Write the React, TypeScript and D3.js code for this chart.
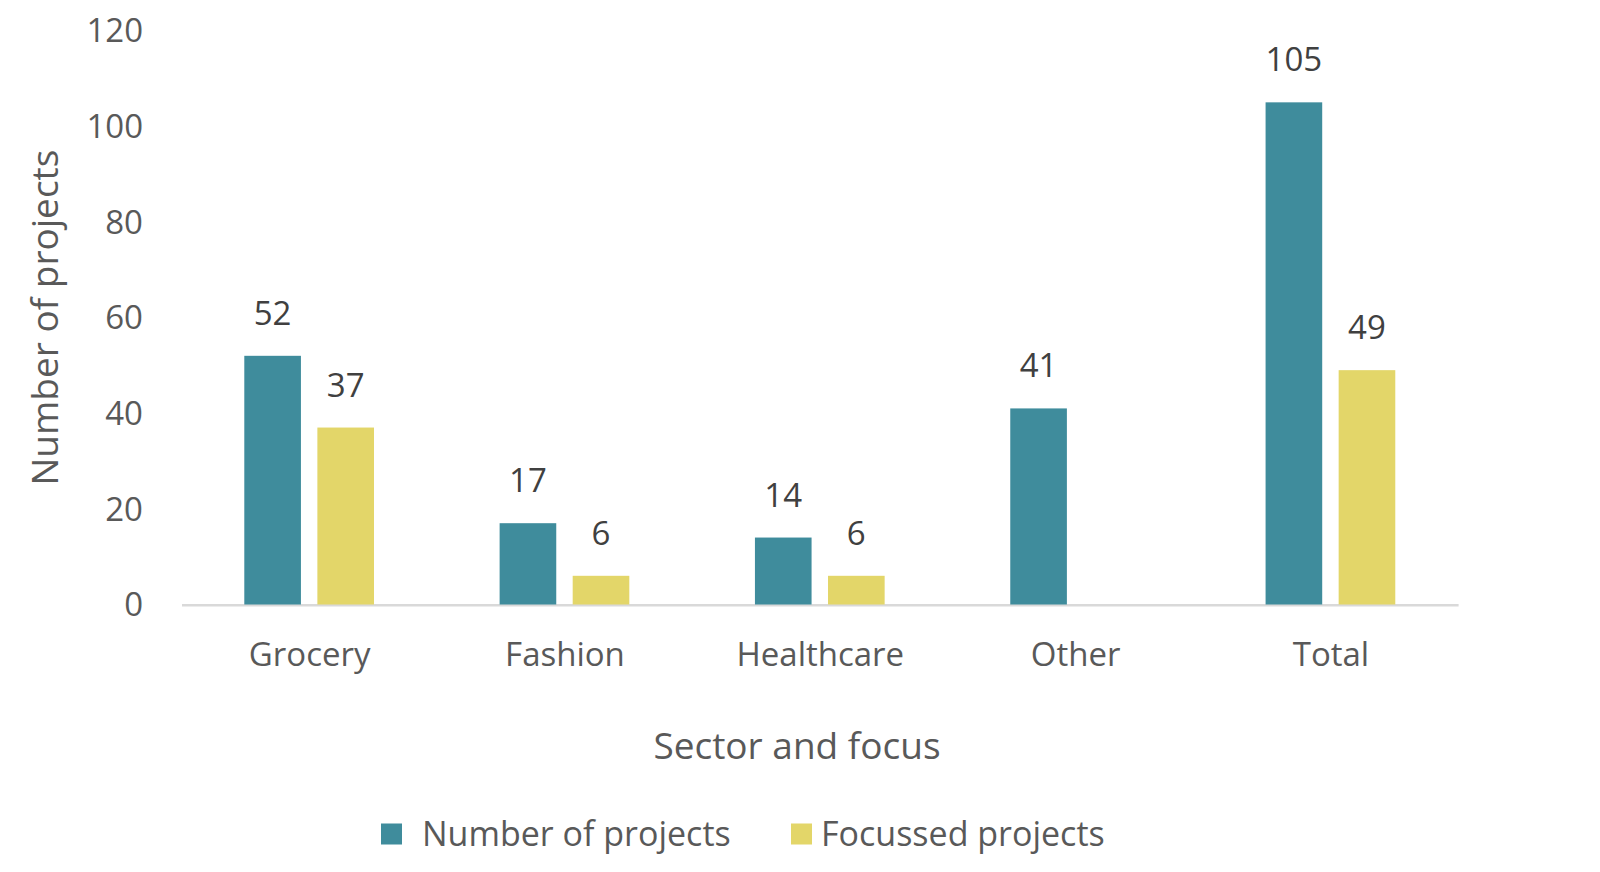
import React, { useRef, useEffect } from 'react';
import * as d3 from 'd3';

// Sectors and the two series
const sectors = ["Grocery", "Fashion", "Healthcare", "Other", "Total"];
const numberOfProjects = [52, 17, 14, 41, 105];
const focussedProjects: (number | null)[] = [37, 6, 6, null, 49];
const seriesNames = ["Number of projects", "Focussed projects"];
const seriesColors = ["#3F8C9C", "#E3D669"];
const yTicks = [0, 20, 40, 60, 80, 100, 120];

const App: React.FC = () => {
  const svgRef = useRef<SVGSVGElement | null>(null);

  useEffect(() => {
    const svg = d3.select(svgRef.current);
    svg.selectAll('*').remove();
    const width = 1600;
    const height = 872;
    const margin = { top: 30.6, right: 141.4, bottom: 267.5, left: 182 };
    const font = '"Open Sans", "Noto Sans", sans-serif';

    svg.attr('width', width).attr('height', height).style('background', '#fff');

    const x0 = d3.scaleBand()
      .domain(sectors)
      .range([margin.left, width - margin.right])
      .padding(0);

    const bw = x0.bandwidth();
    const x1 = d3.scaleBand()
      .domain(seriesNames)
      .range([bw * 0.244, bw * 0.752])
      .paddingInner(0.225)
      .paddingOuter(0);

    const y = d3.scaleLinear()
      .domain([0, 120])
      .range([height - margin.bottom, margin.top]);

    // y tick labels
    svg.append('g')
      .selectAll('text')
      .data(yTicks)
      .enter()
      .append('text')
      .attr('x', margin.left - 39)
      .attr('y', d => y(d))
      .attr('dy', '0.36em')
      .attr('text-anchor', 'end')
      .style('font-family', font)
      .style('font-size', '33px')
      .attr('fill', '#595959')
      .text(d => d);

    // baseline
    svg.append('line')
      .attr('x1', margin.left)
      .attr('x2', width - margin.right)
      .attr('y1', y(0) + 0.8)
      .attr('y2', y(0) + 0.8)
      .attr('stroke', '#d9d9d9')
      .attr('stroke-width', 2.5);

    const rows = sectors.map((s, i) => ({
      sector: s,
      values: [numberOfProjects[i], focussedProjects[i]],
    }));

    const groups = svg.append('g')
      .selectAll('g')
      .data(rows)
      .enter()
      .append('g')
      .attr('transform', d => `translate(${x0(d.sector)},0)`);

    const cells = groups.selectAll('g')
      .data(d => d.values.map((v, k) => ({ v, k })).filter(c => c.v !== null))
      .enter()
      .append('g');

    cells.append('rect')
      .attr('x', c => x1(seriesNames[c.k])!)
      .attr('y', c => y(c.v as number))
      .attr('width', x1.bandwidth())
      .attr('height', c => y(0) - y(c.v as number))
      .attr('fill', c => seriesColors[c.k]);

    cells.append('text')
      .attr('x', c => x1(seriesNames[c.k])! + x1.bandwidth() / 2)
      .attr('y', c => y(c.v as number) - 31)
      .attr('text-anchor', 'middle')
      .style('font-family', font)
      .style('font-size', '33px')
      .attr('fill', '#404040')
      .text(c => c.v as number);

    // category labels
    svg.append('g')
      .selectAll('text')
      .data(sectors)
      .enter()
      .append('text')
      .attr('x', d => x0(d)! + bw / 2)
      .attr('y', y(0) + 61)
      .attr('text-anchor', 'middle')
      .style('font-family', font)
      .style('font-size', '33px')
      .attr('fill', '#595959')
      .text(d => d);

    // axis titles
    svg.append('text')
      .attr('x', 797)
      .attr('y', 759)
      .attr('text-anchor', 'middle')
      .style('font-family', font)
      .style('font-size', '37px')
      .attr('fill', '#595959')
      .text('Sector and focus');

    svg.append('text')
      .attr('transform', `translate(58,${(y(0) + y(120)) / 2}) rotate(-90)`)
      .attr('text-anchor', 'middle')
      .style('font-family', font)
      .style('font-size', '37px')
      .attr('fill', '#595959')
      .text('Number of projects');

    // legend
    const legendX = [381, 791];
    const legendTextOffset = [41, 30];
    const legend = svg.append('g')
      .selectAll('g')
      .data(seriesNames)
      .enter()
      .append('g')
      .attr('transform', (d, i) => `translate(${legendX[i]},834)`);

    legend.append('rect')
      .attr('x', 0)
      .attr('y', -10.5)
      .attr('width', 21)
      .attr('height', 21)
      .attr('fill', (d, i) => seriesColors[i]);

    legend.append('text')
      .attr('x', (d, i) => legendTextOffset[i])
      .attr('y', 0)
      .attr('dy', '0.36em')
      .style('font-family', font)
      .style('font-size', '34px')
      .attr('fill', '#595959')
      .text(d => d);
  }, []);

  return <svg ref={svgRef} style={{ position: 'absolute', left: 0, top: 0, display: 'block' }}></svg>;
};

export default App;
